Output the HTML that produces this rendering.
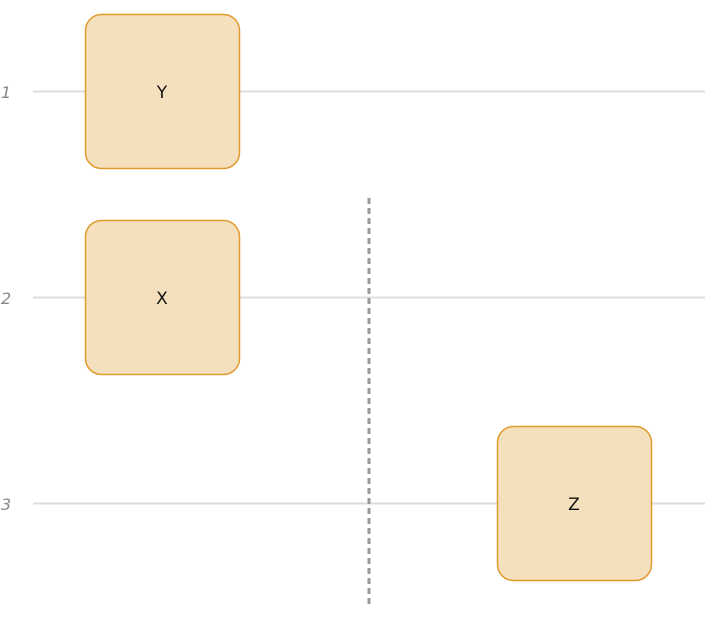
<!DOCTYPE html>
<html><head><style>
html,body{margin:0;padding:0;background:#fff;}
</style></head><body>
<svg width="720" height="623" xmlns="http://www.w3.org/2000/svg" style="display:block">
<g stroke="#dddddd" stroke-width="2">
<line x1="33" y1="91.5" x2="705" y2="91.5"/>
<line x1="33" y1="297.5" x2="705" y2="297.5"/>
<line x1="33" y1="503.5" x2="705" y2="503.5"/>
</g>
<g font-family="DejaVu Sans, sans-serif" font-style="italic" font-size="16" fill="#888">
<text x="1" y="98">1</text>
<text x="1" y="304">2</text>
<text x="1" y="510">3</text>
</g>
<line x1="369" y1="198" x2="369" y2="606" stroke="#999" stroke-width="3" stroke-dasharray="6,4"/>
<g fill="#f5e0bd" stroke="#e09b2f" stroke-width="1.5">
<rect x="85.5" y="14.5" width="154" height="154" rx="16"/>
<rect x="85.5" y="220.5" width="154" height="154" rx="16"/>
<rect x="497.5" y="426.5" width="154" height="154" rx="16"/>
</g>
<g font-family="DejaVu Sans, sans-serif" font-size="17" fill="#111" text-anchor="middle">
<text x="162" y="98">Y</text>
<text x="162" y="304">X</text>
<text x="574" y="510">Z</text>
</g>
</svg>
</body></html>
